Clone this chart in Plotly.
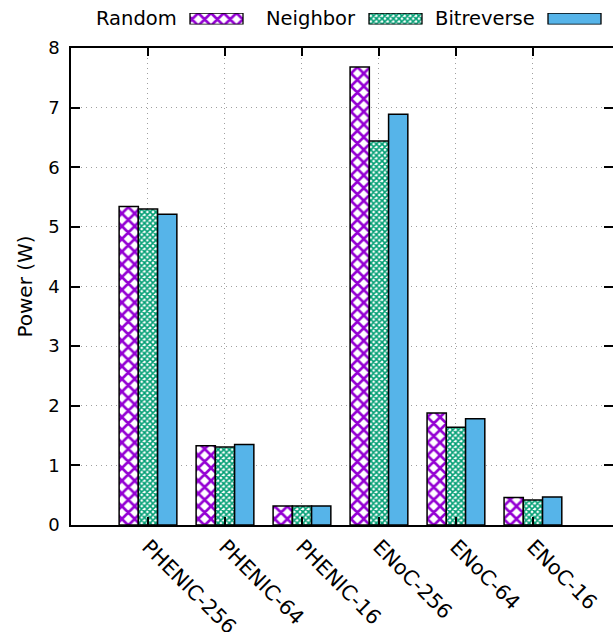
import plotly.graph_objects as go

categories = ["PHENIC-256", "PHENIC-64", "PHENIC-16", "ENoC-256", "ENoC-64", "ENoC-16"]
random_w = [5.34, 1.33, 0.32, 7.68, 1.88, 0.46]
neighbor_w = [5.30, 1.31, 0.32, 6.44, 1.64, 0.42]
bitreverse_w = [5.21, 1.35, 0.32, 6.89, 1.78, 0.47]
series_names = ["Random", "Neighbor", "Bitreverse"]
y_ticks = [0, 1, 2, 3, 4, 5, 6, 7, 8]

FONT = "DejaVu Sans"
W, H = 613, 632
ML, MT, MB = 71, 5, 107
plot_top_px = 48
plot_h = H - MT - MB
main_top = (H - MB - plot_top_px) / plot_h

styles = [
    dict(shape="x", fgcolor="#9400D3", bgcolor="white", size=9, solidity=0.5, fgopacity=1),
    dict(shape="x", fgcolor="#009E73", bgcolor="white", size=4, solidity=0.65, fgopacity=1),
    None,
]
fills = ["white", "white", "#56B4E9"]
values = [random_w, neighbor_w, bitreverse_w]

fig = go.Figure()
for name, vals, pat, fc in zip(series_names, values, styles, fills):
    marker = dict(color=fc, line=dict(color="black", width=1.5))
    if pat:
        marker["pattern"] = pat
    fig.add_trace(go.Bar(x=categories, y=vals, name=name, marker=marker,
                         showlegend=False, xaxis="x", yaxis="y"))

# custom legend (text left of key), placed on a pixel-unit helper axis
legend_keys = [(190, 53), (369, 53), (548, 53)]
for (x0, w), name, pat, fc in zip(legend_keys, series_names, styles, fills):
    marker = dict(color=fc, line=dict(color="black", width=1.3))
    if pat:
        marker["pattern"] = pat
    fig.add_trace(go.Bar(y=[0.5], x=[w], base=[x0], orientation="h", width=[1], offset=-0.5,
                         marker=marker, showlegend=False, hoverinfo="skip",
                         xaxis="x2", yaxis="y2"))
    fig.add_annotation(x=x0 - 11, y=0.5, xref="x2", yref="y2", text=name,
                       showarrow=False, xanchor="right", yanchor="middle",
                       font=dict(family=FONT, size=19.5, color="black"))

sw_top, sw_bot = 13, 24.5
GRID = dict(showgrid=True, gridcolor="#a0a0a0", griddash="1px,4px", gridwidth=1)
fig.update_layout(
    width=W, height=H,
    margin=dict(l=ML, r=0, t=MT, b=MB),
    paper_bgcolor="white", plot_bgcolor="white",
    barmode="group", bargap=0.25, bargroupgap=0,
    font=dict(family=FONT, size=18, color="black"),
    xaxis=dict(type="category", categoryorder="array", categoryarray=categories,
               range=[-1, 6.04], domain=[0, 1], anchor="y", automargin=False,
               showline=True, linecolor="black", linewidth=1.5, mirror="ticks",
               ticks="inside", ticklen=8, tickcolor="black", tickwidth=1.5,
               tickangle=45, tickfont=dict(family=FONT, size=20.5), **GRID),
    yaxis=dict(range=[0, 8], tickvals=y_ticks, domain=[0, main_top], anchor="x",
               automargin=False,
               showline=True, linecolor="black", linewidth=1.5, mirror="ticks",
               ticks="inside", ticklen=9, tickcolor="black", tickwidth=1.5,
               tickfont=dict(family=FONT, size=18), ticklabelstandoff=6,
               zeroline=False,
               title=dict(text="Power (W)", font=dict(family=FONT, size=20), standoff=10),
               **GRID),
    xaxis2=dict(domain=[0, 1], range=[ML, W], anchor="y2", visible=False, fixedrange=True),
    yaxis2=dict(domain=[(H - MB - sw_bot) / plot_h, (H - MB - sw_top) / plot_h],
                range=[0, 1], anchor="x2", visible=False, fixedrange=True),
)

fig.write_html("out.html", config={"displayModeBar": False},
               post_script="document.body.style.margin='0';document.body.style.overflow='hidden';")
